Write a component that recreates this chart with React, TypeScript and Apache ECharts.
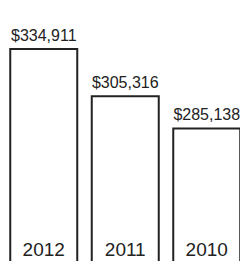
import React, { useEffect, useRef } from "react";
import * as echarts from "echarts";

const categories = ["2012", "2011", "2010"];
const values = [334911, 305316, 285138];
const valueLabels = ["$334,911", "$305,316", "$285,138"];

export default function App() {
  const ref = useRef<HTMLDivElement>(null);
  useEffect(() => {
    document.body.style.margin = "0";
    const chart = echarts.init(ref.current!, null, { renderer: "svg" });
    chart.setOption({
      animation: false,
      backgroundColor: "#ffffff",
      grid: { left: 3, right: -7.5, top: 48, bottom: -1, outerBoundsMode: "none" },
      xAxis: {
        type: "category",
        data: categories,
        axisLine: { show: false },
        axisTick: { show: false },
        axisLabel: {
          inside: true,
          margin: 3,
          fontSize: 19,
          color: "#222",
          fontFamily: "Liberation Sans, Arial, Helvetica, sans-serif",
        },
        z: 10,
      },
      yAxis: {
        type: "value",
        min: 201000,
        max: 334911,
        show: false,
        splitLine: { show: false },
      },
      series: [
        {
          type: "bar",
          data: values,
          barWidth: 69,
          itemStyle: { color: "#ffffff", borderColor: "#222", borderWidth: 2 },
          label: {
            show: true,
            position: "top",
            distance: 5,
            fontSize: 16,
            color: "#222",
            fontFamily: "Liberation Sans, Arial, Helvetica, sans-serif",
            formatter: (p: any) => valueLabels[p.dataIndex],
          },
        },
      ],
    });
    return () => chart.dispose();
  }, []);
  return <div ref={ref} style={{ width: 240, height: 261 }} />;
}
